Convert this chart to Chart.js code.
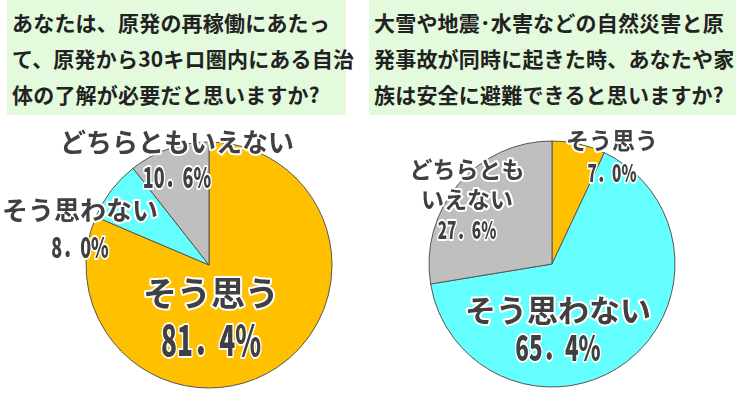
<!DOCTYPE html>
<html>
<head>
<meta charset="utf-8">
<script src="https://cdn.jsdelivr.net/npm/chart.js@4"></script>
<style>
  html, body { margin: 0; padding: 0; background: #fff; }
  #wrap { position: relative; width: 736px; height: 397px; overflow: hidden; }
  .q { position: absolute; top: 0; height: 115px; background: #e3fadc; box-sizing: border-box;
       padding: 4px 0 0 5px; font-family: "Noto Sans CJK JP", sans-serif; font-weight: 700;
       font-size: 21px; line-height: 36px; color: #222; white-space: nowrap; letter-spacing: 0.2px; }
  canvas { position: absolute; top: 0; }
</style>
</head>
<body>
<div id="wrap">
  <div class="q" style="left:7px;width:339px;">あなたは、原発の再稼働にあたっ<br>て、原発から30キロ圏内にある自治<br>体の了解が必要だと思いますか?</div>
  <div class="q" style="left:369px;width:367px;">大雪や地震･水害などの自然災害と原<br>発事故が同時に起きた時、あなたや家<br>族は安全に避難できると思いますか?</div>
  <canvas id="c1" width="368" height="397" style="left:0"></canvas>
  <canvas id="c2" width="368" height="397" style="left:368px"></canvas>
</div>
<script>
// answers, same order in both questions
var categories = ["そう思う", "そう思わない", "どちらともいえない"];
var q1Values = [81.4, 8.0, 10.6];
var q2Values = [7.0, 65.4, 27.6];
var colors = ["#ffc000", "#66ffff", "#bfbfbf"];

// label placement: offsets from pie centre (px), name lines, font sizes
var q1Labels = [
  { lines: ["そう思う"], dx: 2, dy: 28, size: 34, num: 41, gap: 47 },
  { lines: ["そう思わない"], dx: -129, dy: -55, size: 26, num: 28, gap: 37 },
  { lines: ["どちらともいえない"], dx: -32, dy: -123, size: 26, num: 28, gap: 35 }
];
var q2Labels = [
  { lines: ["そう思う"], dx: 60, dy: -124, size: 23, num: 24, gap: 33 },
  { lines: ["そう思わない"], dx: 6, dy: 46, size: 31, num: 35, gap: 38 },
  { lines: ["どちらとも", "いえない"], dx: -85, dy: -95, size: 23, num: 24, gap: 31 }
];

function fmt(v) {
  return v.toFixed(1).replace(".", "．") + "%";
}

function outlined(ctx, txt, x, y) {
  ctx.lineJoin = "round";
  ctx.strokeStyle = "#ffffff";
  ctx.lineWidth = 4;
  ctx.strokeText(txt, x, y);
  ctx.fillStyle = "#404040";
  ctx.fillText(txt, x, y);
}

var labelPlugin = {
  id: "pieLabels",
  afterDatasetsDraw: function(chart) {
    var ctx = chart.ctx;
    var arc = chart.getDatasetMeta(0).data[0];
    var cx = arc.x, cy = arc.y;
    var values = chart.data.datasets[0].data;
    var specs = chart.options.plugins.pieLabels.specs;
    ctx.save();
    ctx.textAlign = "center";
    ctx.textBaseline = "middle";
    specs.forEach(function(s, i) {
      var x = cx + s.dx, y = cy + s.dy;
      ctx.font = "700 " + s.size + "px 'Noto Sans CJK JP'";
      s.lines.forEach(function(l, k) {
        outlined(ctx, l, x, y + k * s.size * 1.3);
      });
      var ny = y + (s.lines.length - 1) * s.size * 1.3 + s.gap;
      ctx.save();
      ctx.translate(x, ny);
      ctx.scale(0.64, 1);
      ctx.font = "900 " + s.num + "px 'Noto Sans CJK SC'";
      outlined(ctx, fmt(values[i]), 0, 0);
      ctx.restore();
    });
    ctx.restore();
  }
};

function makePie(id, values, specs, pad) {
  return new Chart(document.getElementById(id), {
    type: "pie",
    data: {
      labels: categories,
      datasets: [{
        data: values,
        backgroundColor: colors,
        borderColor: "#555555",
        borderWidth: 1
      }]
    },
    options: {
      responsive: false,
      animation: false,
      radius: 123,
      layout: { padding: pad },
      plugins: {
        legend: { display: false },
        tooltip: { enabled: false },
        pieLabels: { specs: specs }
      }
    },
    plugins: [labelPlugin]
  });
}

makePie("c1", q1Values, q1Labels, { left: 50, right: 0, top: 133, bottom: 0 });
makePie("c2", q2Values, q2Labels, { left: 0, right: 0, top: 131, bottom: 0 });
</script>
</body>
</html>
